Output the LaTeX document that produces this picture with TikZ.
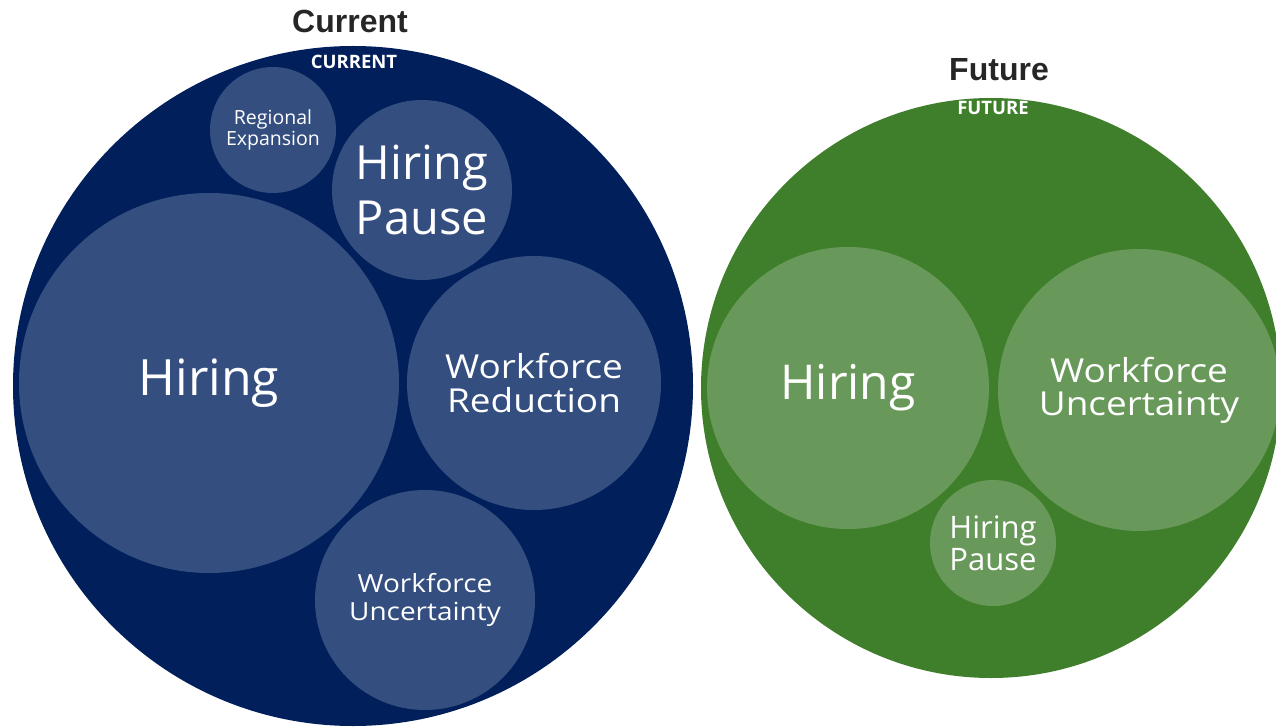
\documentclass[tikz,border=0pt]{standalone}
\usepackage{fontspec}
\setmainfont{Open Sans}
\newfontfamily\titlefont{Liberation Sans}
\newfontfamily\wideface[FakeStretch=1.12]{Open Sans}
\definecolor{curdark}{HTML}{001F5B}
\definecolor{curlight}{HTML}{344E7F}
\definecolor{futdark}{HTML}{3F7F2B}
\definecolor{futlight}{HTML}{69995A}
\definecolor{titlegray}{HTML}{262626}
\tikzset{
  bubble/.style={circle, inner sep=0pt, minimum size=#1, text=white, align=center},
  outerlabel/.style={text=white, font=\bfseries\fontsize{18.5}{18.5}\selectfont, inner sep=0pt},
  charttitle/.style={text=titlegray, font=\titlefont\bfseries\fontsize{32}{32}\selectfont, inner sep=0pt, anchor=base},
}
\begin{document}
\begin{tikzpicture}[x=1pt, y=-1pt]
\useasboundingbox (0,0) rectangle (1276,727);
% Current
\node[bubble=680pt, fill=curdark] (cur) at (353,386) {};
\node[outerlabel] (curlab) at (354,61.5) {CURRENT};
\node[charttitle] (curtitle) at (350,33) {Current};
\node[bubble=380pt, fill=curlight, font=\fontsize{50}{55}\selectfont] (chiring) at (209,383) {Hiring};
\node[bubble=126pt, fill=curlight, font=\fontsize{19.5}{20.5}\selectfont] (cregion) at (273,130) {Regional\\Expansion};
\node[bubble=180pt, fill=curlight, font=\fontsize{47}{55}\selectfont] (cpause) at (422,190) {Hiring\\Pause};
\node[bubble=254pt, fill=curlight, font=\wideface\fontsize{33}{34}\selectfont] (creduct) at (534,383) {Workforce\\Reduction};
\node[bubble=220pt, fill=curlight, font=\wideface\fontsize{25}{28}\selectfont] (cuncert) at (425,600) {Workforce\\Uncertainty};
% Future
\node[bubble=580pt, fill=futdark] (fut) at (991,388) {};
\node[outerlabel] (futlab) at (993,107.5) {FUTURE};
\node[charttitle] (futtitle) at (999,81) {Future};
\node[bubble=282pt, fill=futlight, font=\fontsize{48}{55}\selectfont] (fhiring) at (848,388) {Hiring};
\node[bubble=282pt, fill=futlight, font=\wideface\fontsize{33}{33}\selectfont] (funcert) at (1139,390) {Workforce\\Uncertainty};
\node[bubble=126pt, fill=futlight, font=\fontsize{31}{32}\selectfont] (fpause) at (993,543) {Hiring\\Pause};
\end{tikzpicture}
\end{document}
